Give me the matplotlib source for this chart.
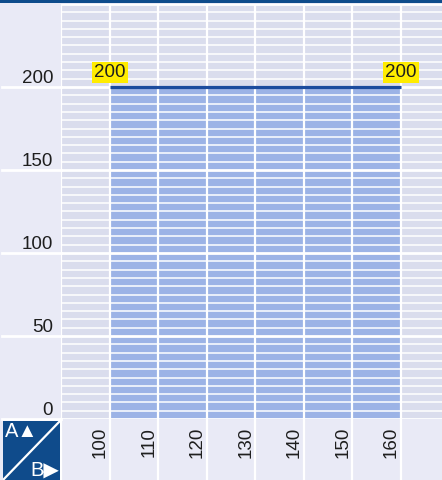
import matplotlib
matplotlib.use("Agg")
import matplotlib.pyplot as plt
from matplotlib.patches import Rectangle
from matplotlib.transforms import ScaledTranslation

# ---- data ----
x_values = [100, 160]
y_values = [200, 200]
x_ticks = [100, 110, 120, 130, 140, 150, 160]
x_grid = [90, 100, 110, 120, 130, 140, 150, 160, 170]
y_ticks = [0, 50, 100, 150, 200]
y_major_grid = [0, 50, 100, 150, 200, 250]
corner_top = "A▲"
corner_bottom = "B▶"

plt.rcParams['font.family'] = ['Liberation Sans', 'DejaVu Sans']
FS = 13.5

W, H = 442, 480
fig = plt.figure(figsize=(W / 100, H / 100), dpi=100)
fig.patch.set_facecolor('#e9eaf6')

L, R, B, T = 61, 442, 61, 476  # pixel box of plot area (B, T from bottom)
ax = fig.add_axes([L / W, B / H, (R - L) / W, (T - B) / H])
ax.set_facecolor('#dadded')
for s in ax.spines.values():
    s.set_visible(False)
ax.set_xticks(x_grid)
ax.set_yticks(y_major_grid)
ax.set_yticks(range(0, 251, 5), minor=True)
ax.set_xlim(90, 168.45)
ax.set_ylim(0, 250)
ax.tick_params(which='both', length=0, labelleft=False, labelbottom=False)
ax.set_axisbelow('line')
ax.grid(which='minor', axis='y', color='white', lw=1.1)
ax.grid(which='major', axis='y', color='white', lw=2.0)
ax.grid(which='major', axis='x', color='white', lw=1.6)

# filled area and line
ax.fill_between(x_values, y_values, 0, color='#9cb3e6', lw=0, zorder=1)
ax.plot(x_values, y_values, color='#1b4c9e', lw=2.3, zorder=3, solid_capstyle='butt')

# extend major horizontal lines into the left column
yt = ax.get_yaxis_transform()
for yv in y_major_grid[:-1]:
    ax.plot([-(L - 2) / (R - L), 0], [yv, yv], transform=yt, color='white',
            lw=2.0, clip_on=False, zorder=1.5)
# extend vertical lines into the bottom row
xt = ax.get_xaxis_transform()
for xv in x_grid[:-1]:
    ax.plot([xv, xv], [-B / (T - B), 0], transform=xt, color='white',
            lw=1.6, clip_on=False, zorder=1.5)

# y labels
dpi_tr = fig.dpi_scale_trans
for yv in y_ticks:
    ax.text(0, yv, str(yv), transform=yt + ScaledTranslation(-8 / 100, 4 / 100, dpi_tr),
            ha='right', va='baseline', fontsize=FS, color='#1e1e1e', clip_on=False)
# x labels
for xv in x_ticks:
    ax.text(xv, 0, str(xv), transform=xt + ScaledTranslation(-1 / 100, -8 / 100, dpi_tr),
            ha='right', va='top', rotation=90, fontsize=FS, color='#1e1e1e', clip_on=False)

# value labels
for xv, yv in zip(x_values, y_values):
    ax.annotate(str(yv), (xv, yv), xytext=(0, 6), textcoords='offset pixels',
                ha='center', va='bottom', fontsize=FS, color='#1e1e1e', zorder=5,
                bbox=dict(boxstyle='square,pad=0.12', fc='#ffec00', ec='none'),
                annotation_clip=False)

# top bar
fig.add_artist(Rectangle((0, (H - 3) / H), 1, 3 / H, transform=fig.transFigure,
                         color='#0e4c8c', lw=0))

# corner box
cax = fig.add_axes([3 / W, 0, 57 / W, 59 / H])
cax.set_facecolor('#0f4b8b')
cax.set_xlim(0, 1)
cax.set_ylim(0, 1)
cax.set_xticks([])
cax.set_yticks([])
for s in cax.spines.values():
    s.set_visible(False)
cax.plot([0, 1], [0, 1], color='white', lw=1.6)
cax.text(0.04, 0.98, corner_top, ha='left', va='top', color='white', fontsize=14.5)
cax.text(0.98, 0.0, corner_bottom, ha='right', va='bottom', color='white', fontsize=14.5)

fig.savefig('out.png', dpi=100, facecolor=fig.get_facecolor())
